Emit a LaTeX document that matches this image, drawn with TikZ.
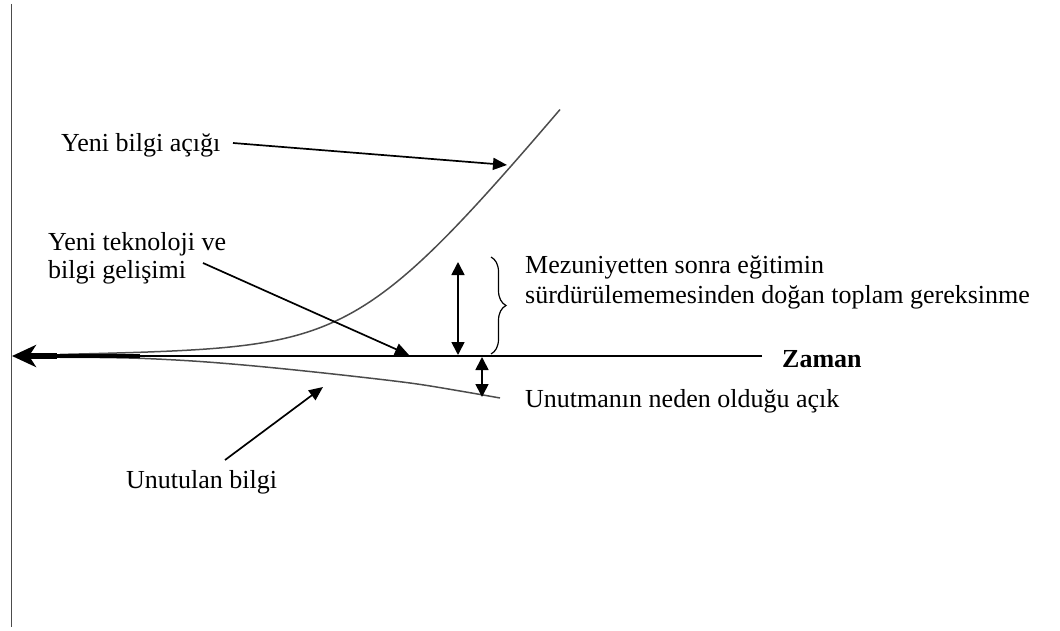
\documentclass[tikz,border=0pt]{standalone}
\usepackage{fontspec}
\setmainfont{Liberation Serif}
\usetikzlibrary{arrows.meta,decorations.pathreplacing}
\begin{document}
\begin{tikzpicture}[x=1pt,y=-1pt,
  lbl/.style={inner sep=0pt, anchor=base west, font=\fontsize{26}{30}\selectfont},
  pointer/.style={line width=1.7pt, -{Triangle[length=14pt,width=12pt]}},
  twoway/.style={line width=1.7pt, {Triangle[length=13pt,width=13pt]}-{Triangle[length=13pt,width=13pt]}},
  curve/.style={line width=1.5pt, black!70},
  frame/.style={line width=1.7pt, black!70},
]
\useasboundingbox (0,0) rectangle (1060,631);

% vertical reference line
\coordinate (vtop) at (11.5,4);
\coordinate (vbot) at (11.5,627);
\draw[frame] (vtop) -- (vbot);

% growth of new knowledge (upper) and forgotten knowledge (lower)
\draw[curve] plot[domain=60:560, samples=120]
  ({\x}, {355 - (0.02*(\x-35) + 58.5*(ln(1+exp((\x-360)/50)) - ln(1+exp(-6.5))))});
\draw[curve] plot[smooth, tension=0.55] coordinates {(60,357.3) (100,357.5) (145,358.5) (200,361.5) (260,366.5) (333,374) (410,383) (460,391) (500,398)};

% time axis, drawn over the start of both curves
\coordinate (axisEnd) at (762,356);
\coordinate (axisMid) at (140,356);
\coordinate (axisNeck) at (57,356);
\coordinate (axisTip) at (12,356);
\draw[line width=1.8pt] (axisEnd) -- (axisMid);
\draw[line width=4pt] (axisMid) -- (axisNeck);
\draw[line width=6.5pt, -{Stealth[length=24pt,width=22pt,inset=7pt]}] (axisNeck) -- (axisTip);

% labels
\node[lbl] (gap) at (61,152) {Yeni bilgi açığı};
\node[lbl] (tech1) at (48,251) {Yeni teknoloji ve};
\node[lbl] (tech2) at (48,278) {bilgi gelişimi};
\node[lbl] (need1) at (525,273) {Mezuniyetten sonra eğitimin};
\node[lbl] (need2) at (525,303) {sürdürülememesinden doğan toplam gereksinme};
\node[lbl, font=\fontsize{26}{30}\selectfont\bfseries] (time) at (782,367) {Zaman};
\node[lbl] (forgot) at (525,407) {Unutmanın neden olduğu açık};
\node[lbl] (lost) at (126,488) {Unutulan bilgi};

% pointer arrows
\coordinate (gapStart) at (233,143);
\coordinate (gapEnd) at (507,165);
\draw[pointer] (gapStart) -- (gapEnd);
\coordinate (techStart) at (203,263);
\coordinate (techEnd) at (409,355);
\draw[pointer] (techStart) -- (techEnd);
\coordinate (lostStart) at (225,460);
\coordinate (lostEnd) at (323,387);
\draw[pointer] (lostStart) -- (lostEnd);

% measured gaps
\coordinate (needTop) at (458,262);
\coordinate (needBot) at (458,355);
\draw[twoway] (needTop) -- (needBot);
\coordinate (forgTop) at (482,357);
\coordinate (forgBot) at (482,397);
\draw[twoway] (forgTop) -- (forgBot);

% brace for total need
\coordinate (braceTop) at (491,257);
\coordinate (braceBot) at (491,354);
\draw[line width=1.2pt, decorate, decoration={brace, amplitude=15pt}] (braceTop) -- (braceBot);
\end{tikzpicture}
\end{document}
